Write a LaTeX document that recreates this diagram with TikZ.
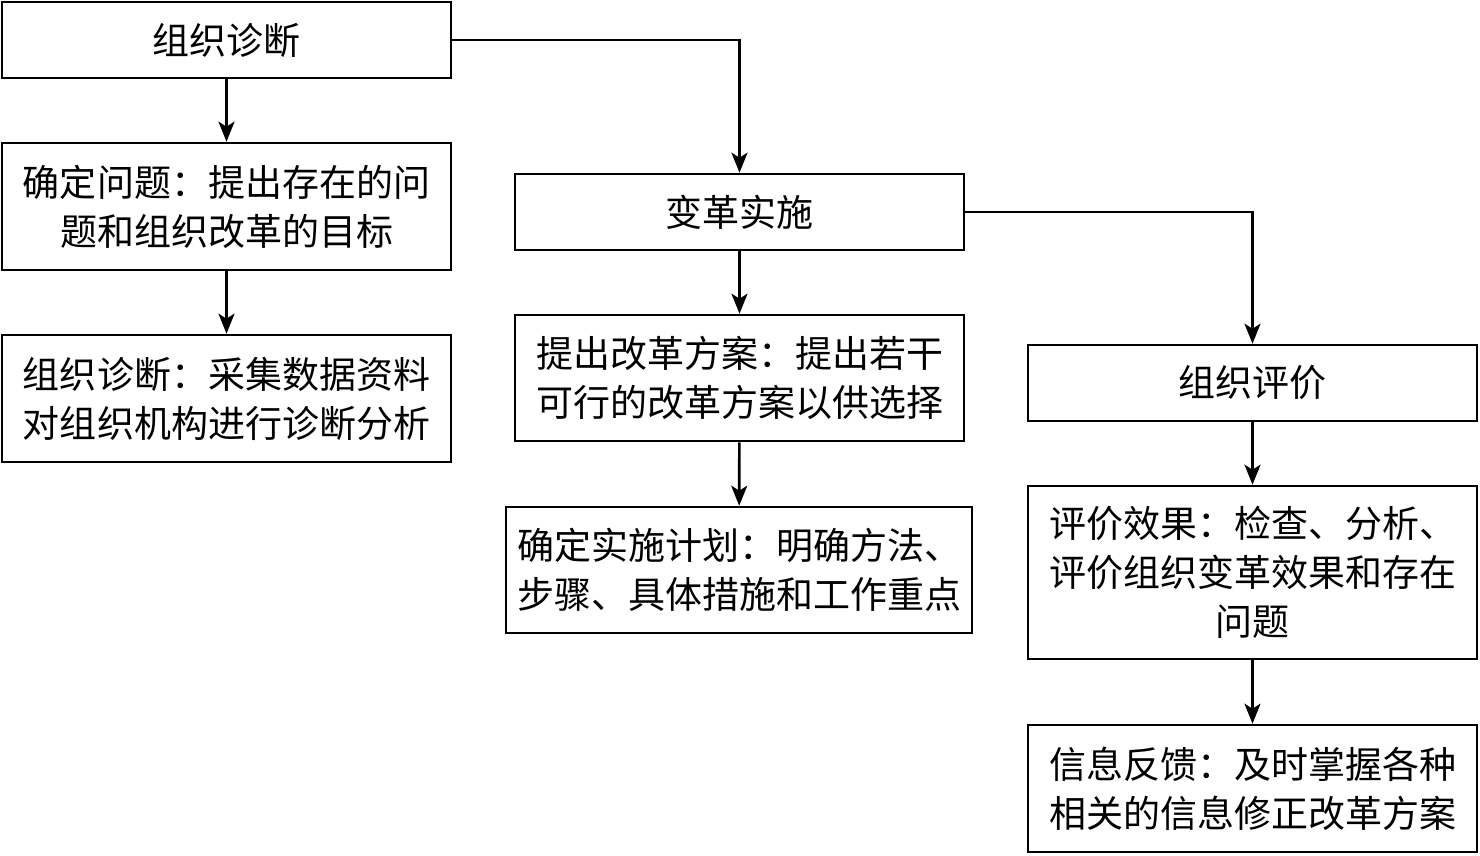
\documentclass[tikz,border=0pt]{standalone}
\usepackage{fontspec}
\newfontfamily\cjk{Noto Sans CJK SC}
\usetikzlibrary{arrows.meta}
\begin{document}
\begin{tikzpicture}[x=1pt,y=-1pt,
  box/.style={draw, line width=2.6pt, rectangle, inner sep=0pt, align=center,
    font=\cjk\fontsize{37}{49}\selectfont, text=black},
  conn/.style={line width=2.6pt, -{Stealth[length=20pt,width=16pt,inset=5pt]}}]
\useasboundingbox (0,0) rectangle (1480,855);
\node[box, minimum width=449pt, minimum height=76pt] (b1) at (226.5,40) {组织诊断};
\node[box, minimum width=449pt, minimum height=127pt] (b2) at (226.5,206.5) {确定问题：提出存在的问\\题和组织改革的目标};
\node[box, minimum width=449pt, minimum height=127pt] (b3) at (226.5,398.5) {组织诊断：采集数据资料\\对组织机构进行诊断分析};
\node[box, minimum width=449pt, minimum height=76pt] (b4) at (739.5,212) {变革实施};
\node[box, minimum width=449pt, minimum height=126pt] (b5) at (739.5,378) {提出改革方案：提出若干\\可行的改革方案以供选择};
\node[box, minimum width=466pt, minimum height=126pt] (b6) at (739,570) {确定实施计划：明确方法、\\步骤、具体措施和工作重点};
\node[box, minimum width=449pt, minimum height=76pt] (b7) at (1252.5,383) {组织评价};
\node[box, minimum width=449pt, minimum height=173pt] (b8) at (1252.5,572.5) {评价效果：检查、分析、\\评价组织变革效果和存在\\问题};
\node[box, minimum width=449pt, minimum height=127pt] (b9) at (1252.5,788.5) {信息反馈：及时掌握各种\\相关的信息修正改革方案};
\draw[conn] (b1) -- (b2);
\draw[conn] (b2) -- (b3);
\draw[conn] (b1.east) -| (b4.north);
\draw[conn] (b4) -- (b5);
\draw[conn] (b5) -- (b6);
\draw[conn] (b4.east) -| (b7.north);
\draw[conn] (b7) -- (b8);
\draw[conn] (b8) -- (b9);
\end{tikzpicture}
\end{document}
